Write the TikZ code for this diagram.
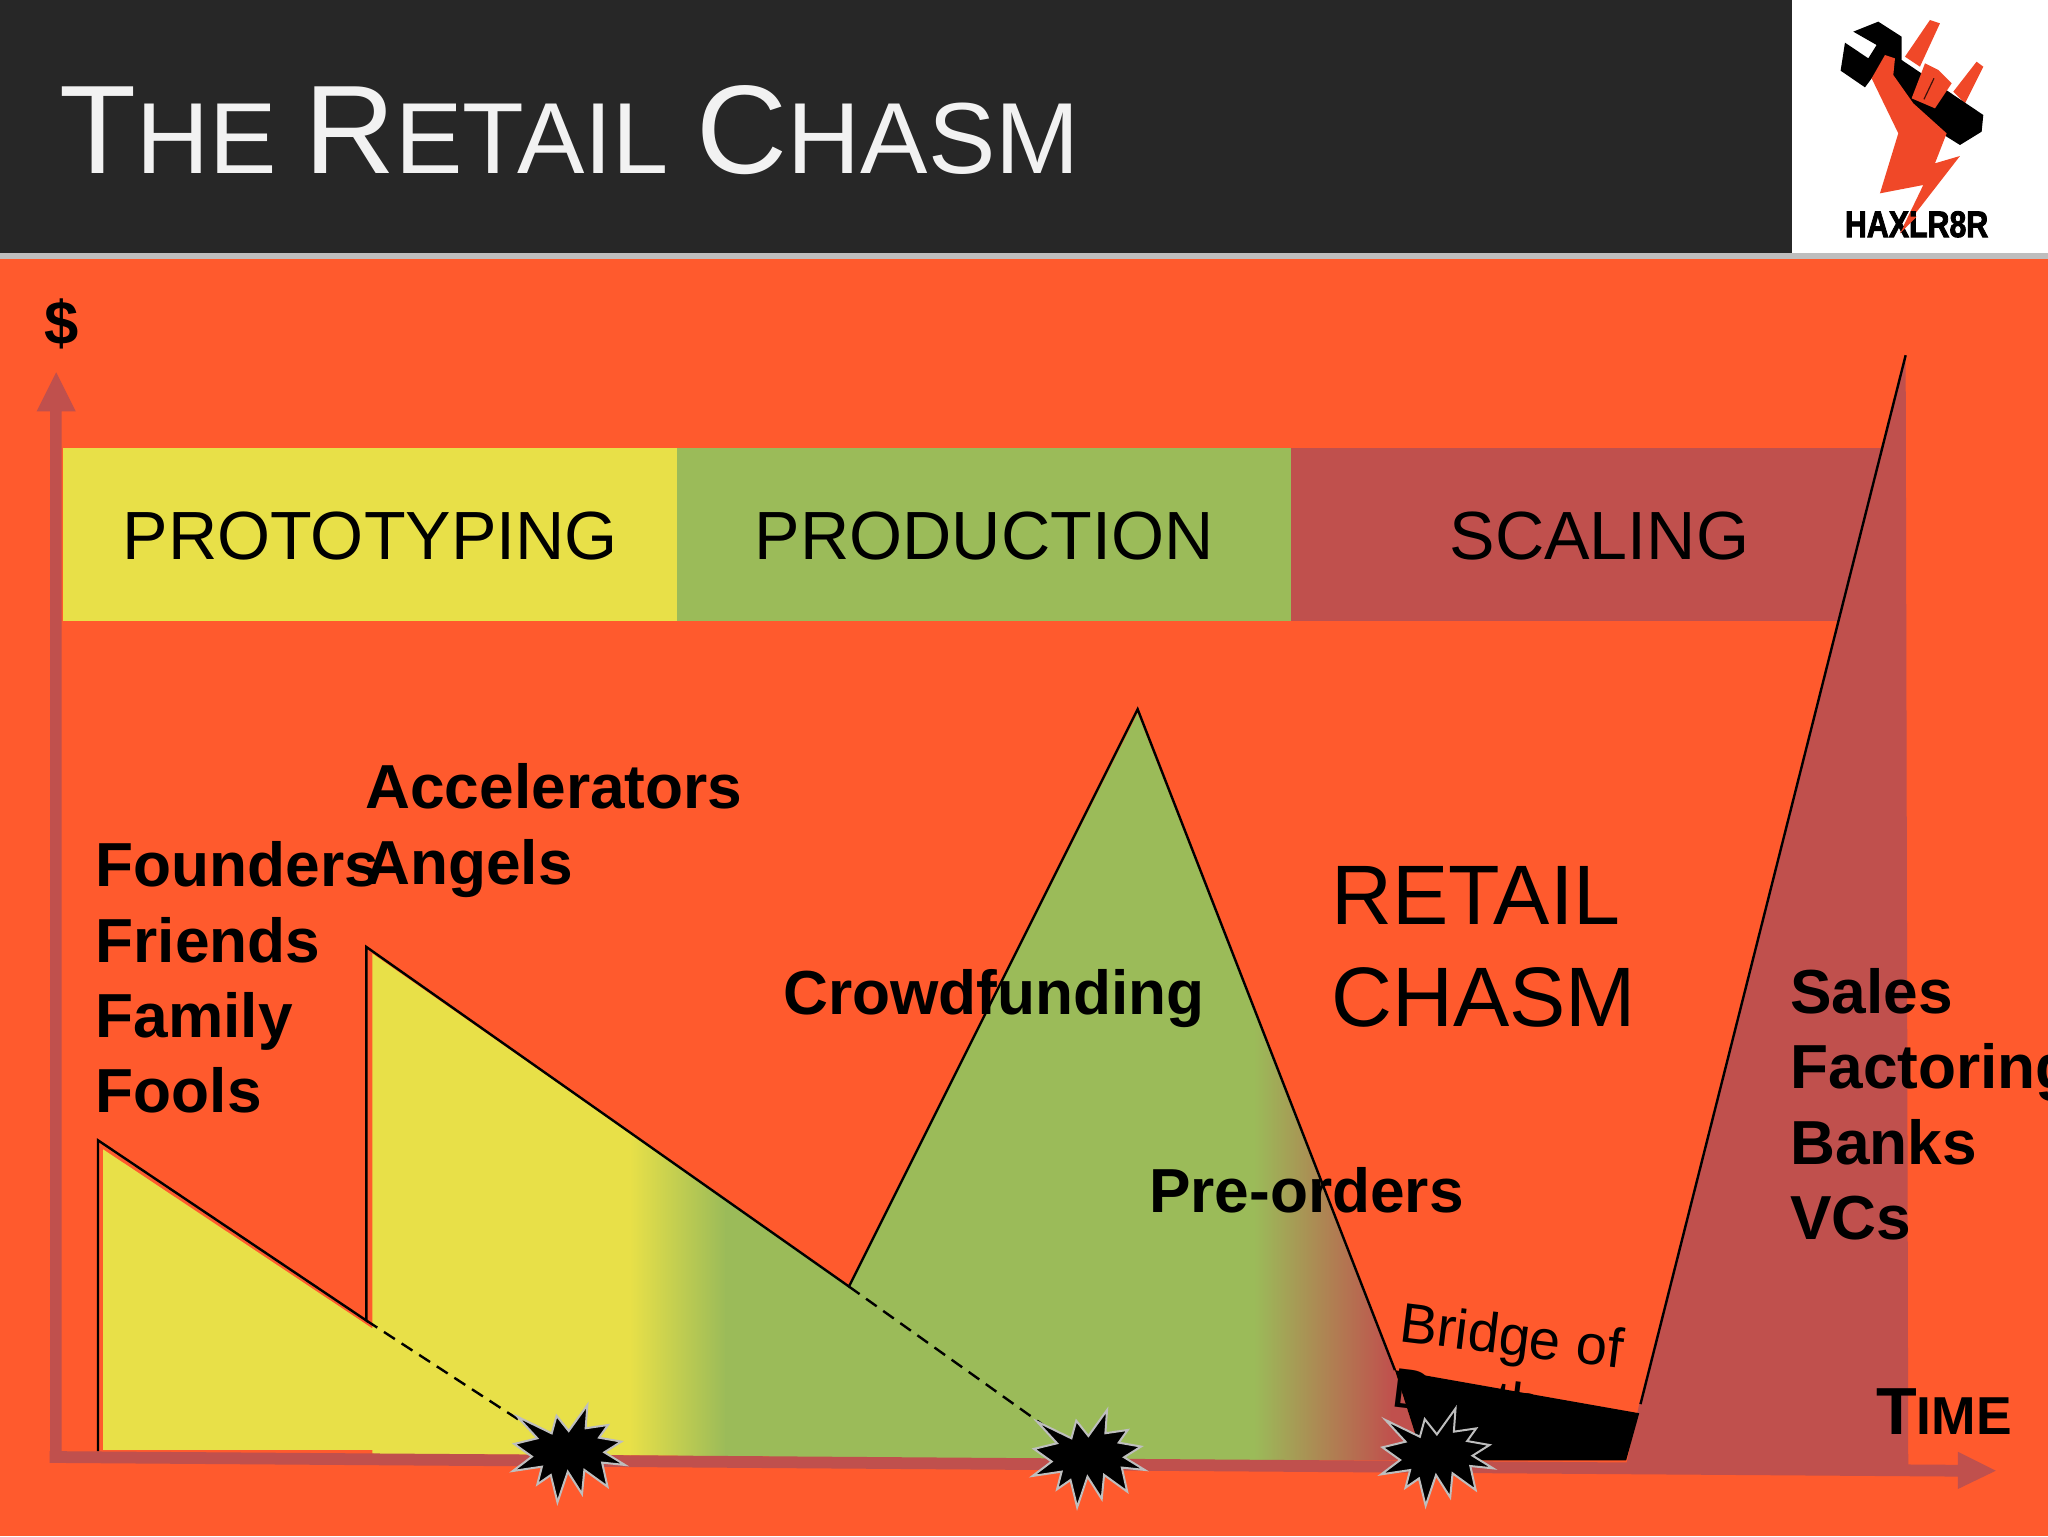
\documentclass[tikz,border=0pt]{standalone}
\usepackage{fontspec}
\setmainfont{Liberation Sans}
\newfontfamily\logofont[FakeBold=2.5]{Liberation Sans Bold}
\definecolor{bgorange}{RGB}{255,90,45}
\definecolor{hyellow}{RGB}{232,224,72}
\definecolor{hgreen}{RGB}{155,187,89}
\definecolor{hred}{RGB}{192,80,77}
\definecolor{hdark}{RGB}{39,39,39}
\definecolor{hgrey}{RGB}{190,190,190}
\definecolor{logored}{RGB}{240,72,40}
\newcommand{\fsz}[1]{\fontsize{#1}{#1}\selectfont}
\tikzset{
  x=0.65306pt,y=-0.65306pt,
  outline/.style={draw=black,line width=1.2pt,line join=miter},
  dashline/.style={draw=black,line width=1.2pt,dash pattern=on 6.5pt off 4pt},
  barlabel/.style={inner sep=0pt,anchor=base,font=\fsz{34.1}},
  fundlabel/.style={inner sep=0pt,anchor=base west,align=left,font=\fontsize{31.1}{37.7}\selectfont\bfseries},
  burst/.pic={
    \path[fill=black,draw=hgrey,line width=1pt,line join=miter]
      (-38.6,-26.8)--(-12.3,-14)--(-8.6,-27.5)--(.7,-15.8)--(15,-35.7)--(13.7,-17.9)
      --(30.8,-20.4)--(23.9,-10.7)--(41,-7.7)--(28,.5)--(43.8,10.2)--(26.3,8.4)
      --(30.4,26.8)--(12.7,14)--(10.9,32.4)--(0,15.3)--(-7.9,38.8)--(-13,17.9)
      --(-23.3,25)--(-19.8,11.5)--(-42,14.8)--(-27.4,3.8)--(-41,-5.9)--(-23.3,-10.2)--cycle;
  }
}
\begin{document}
\begin{tikzpicture}
\useasboundingbox (0,0) rectangle (1568,1176);
% background and header
\fill[bgorange] (0,0) rectangle (1568,1176);
\fill[hdark] (0,0) rectangle (1372,194);
\fill[white] (1372,0) rectangle (1568,194);
\fill[hgrey] (0,194) rectangle (1568,198);
\node[inner sep=0pt,anchor=base west,text=white!95!black] (title) at (45,133)
  {\fsz{63}T\fsz{50.5}HE \fsz{63}R\fsz{50.5}ETAIL \fsz{63}C\fsz{50.5}HASM};
% logo
\begin{scope}[shift={(1339.8,0)},scale=.2552]
  \fill[logored] (465,170)--(540,60)--(570,70)--(510,200)--cycle;
  \fill[logored] (610,275)--(680,185)--(700,200)--(645,310)--cycle;
  \fill[black] (310,95)--(385,65)--(455,110)--(455,180)--(700,345)--(695,395)--(630,435)--(590,410)--(430,290)--(380,215)--(345,262)--(272,212)--(285,128)--(355,175)--(380,135)--cycle;
  \fill[logored] (405,165)--(435,175)--(430,225)--(490,310)--(590,400)--(555,490)--(630,468)--(450,700)--(520,555)--(390,580)--(445,400)--(365,235)--cycle;
  \fill[logored] (525,190)--(565,210)--(605,250)--(555,325)--(485,295)--(510,230)--cycle;
  \draw[black!75!logored,line width=.6pt] (552,235)--(522,298);
  \node[inner sep=0pt,xscale=.82,font=\fsz{18.5}\logofont] (logotext) at (500,673) {HAXLR8R};
  \fill[logored] (478,650)--(500,650)--(450,700)--cycle;
\end{scope}
% bars
\fill[hyellow] (48,343) rectangle (518,475.5);
\fill[hgreen] (518,343) rectangle (988.5,475.5);
\fill[hred] (988.5,343) rectangle (1441,475.5);
\node[barlabel] (proto) at (283.5,428) {PROTOTYPING};
\node[barlabel] (prod) at (753.5,428) {PRODUCTION};
\node[barlabel] (scale) at (1224.5,428) {SCALING};
% funding mountain
\begin{scope}
  \clip (79,880)--(285,1017)--(285,730)--(650,985)--(871,546)--(1068,1050)--(1090,1118)
    --(589,1118)--(589,1115)--(285,1113)--(285,1110)--(79,1110)--cycle;
  \fill[hyellow] (70,500) rectangle (483,1125);
  \shade[left color=hyellow,right color=hgreen] (482,500) rectangle (556,1125);
  \fill[hgreen] (555,500) rectangle (961,1125);
  \shade[left color=hgreen,right color=hred] (960,500) rectangle (1066,1125);
  \fill[hred] (1065,500) rectangle (1100,1125);
\end{scope}
% scaling mountain
\fill[hred] (1459,272)--(1461,1122)--(1245,1122)--(1255,1075)--cycle;
% axes
\fill[hred] (38,1111)--(1499,1121.5)--(1499,1111.5)--(1528,1126)--(1499,1140)--(1499,1130.5)--(38,1120)--cycle;
\fill[hred] (38.3,1120)--(38.3,315)--(28,315)--(43,285)--(58,315)--(47.2,315)--(47.2,1120)--cycle;
\node[inner sep=0pt,font=\fsz{30.8}\bfseries] (dollar) at (47,248) {\$};
\node[inner sep=0pt,anchor=base west] (time) at (1436,1098)
  {\bfseries\fsz{33.3}T\fsz{26.7}IME};
% bridge of death
\node[inner sep=0pt,anchor=base west,rotate=-7,align=left,font=\fontsize{28}{33}\selectfont] (bridge) at (1064,1077) {Bridge of\\Death};
\fill[black] (1068,1049)--(1255,1082)--(1245,1118)--(1090,1118)--cycle;
% outlines
\coordinate (a0) at (75,1111);
\coordinate (a1) at (75,873);
\coordinate (a2) at (280.5,1011);
\coordinate (a3) at (280.5,725);
\coordinate (a4) at (650,985);
\coordinate (a5) at (871,543);
\coordinate (a6) at (1068,1049);
\draw[outline] (a0)--(a1)--(a2)--(a3)--(a4)--(a5)--(a6);
\coordinate (r0) at (1256,1075);
\coordinate (r1) at (1459,272);
\draw[outline] (r0)--(r1);
% bursts
\coordinate (b1) at (434.7,1111.4);
\coordinate (b2) at (832.6,1115.2);
\coordinate (b3) at (1099.4,1114);
\draw[dashline] (a2)--(b1);
\draw[dashline] (a4)--(b2);
\pic at (b1) {burst};
\pic at (b2) {burst};
\pic at (b3) {burst};
% labels
\node[fundlabel] (founders) at (73,852) {Founders\\Friends\\Family\\Fools};
\node[fundlabel] (accel) at (279.5,677) {Accelerators\\Angels};
\node[fundlabel] (crowd) at (599.5,776.5) {Crowdfunding};
\node[fundlabel] (preorders) at (879.5,928) {Pre-orders};
\node[fundlabel] (sales) at (1370.5,949) {Sales\\Factoring\\Banks\\VCs};
\node[inner sep=0pt,anchor=base west,align=left,font=\fontsize{42.2}{51}\selectfont] (chasm) at (1019,786) {RETAIL\\CHASM};
\end{tikzpicture}
\end{document}
